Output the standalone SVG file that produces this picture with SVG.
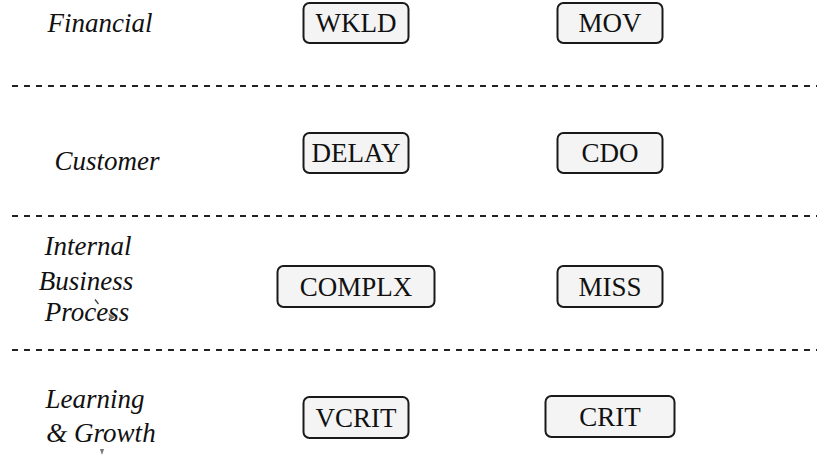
<svg xmlns="http://www.w3.org/2000/svg" width="817" height="458" viewBox="0 0 817 458">
<style>
.node rect{fill:#f4f4f4;stroke:#1a1a1a;stroke-width:2}
.node text{font-size:27px;fill:#111;text-anchor:middle}
.lbl{font-size:27px;font-style:italic;fill:#111;text-anchor:middle}
.sep{stroke:#222;stroke-width:2;stroke-dasharray:6 6;fill:none}
</style>
<g id="separators">
<line class="sep" x1="12" y1="86" x2="817" y2="86"/>
<line class="sep" x1="12" y1="216" x2="817" y2="216"/>
<line class="sep" x1="12" y1="350" x2="817" y2="350"/>
</g>
<g id="labels" font-family="'Liberation Serif', 'Tinos', 'Noto Serif', 'DejaVu Serif', serif">
<text class="lbl" x="100" y="32">Financial</text>
<text class="lbl" x="107" y="170">Customer</text>
<text class="lbl" x="88" y="255">Internal</text>
<text class="lbl" x="86" y="290">Business</text>
<text class="lbl" x="87" y="321">Process</text>
<text class="lbl" x="95" y="408">Learning</text>
<text class="lbl" x="101" y="442">&amp; Growth</text>
</g>
<g id="nodes" font-family="'Liberation Serif', 'Tinos', 'Noto Serif', 'DejaVu Serif', serif">
<g id="WKLD" class="node"><rect x="303.5" y="3" width="105" height="40" rx="6"/><text x="356" y="32">WKLD</text></g>
<g id="MOV" class="node"><rect x="557.5" y="3" width="105" height="40" rx="6"/><text x="610" y="32">MOV</text></g>
<g id="DELAY" class="node"><rect x="303.5" y="133" width="105" height="40" rx="6"/><text x="356" y="162">DELAY</text></g>
<g id="CDO" class="node"><rect x="557.5" y="133" width="105" height="40" rx="6"/><text x="610" y="162">CDO</text></g>
<g id="COMPLX" class="node"><rect x="277.5" y="266" width="157" height="41" rx="6"/><text x="356" y="296">COMPLX</text></g>
<g id="MISS" class="node"><rect x="557.5" y="266" width="105" height="41" rx="6"/><text x="610" y="296">MISS</text></g>
<g id="VCRIT" class="node"><rect x="303.5" y="397" width="105" height="41" rx="6"/><text x="356" y="427">VCRIT</text></g>
<g id="CRIT" class="node"><rect x="545.5" y="396" width="129" height="41" rx="6"/><text x="610" y="426">CRIT</text></g>
</g>
<g id="connectors">
<line x1="95" y1="299.5" x2="98.5" y2="304" stroke="#444" stroke-width="1.3"/>
<polygon points="108,313 115,317 111,320" fill="#777"/>
<polygon points="100,449 104,449 102,455" fill="#777"/>
</g>
</svg>
